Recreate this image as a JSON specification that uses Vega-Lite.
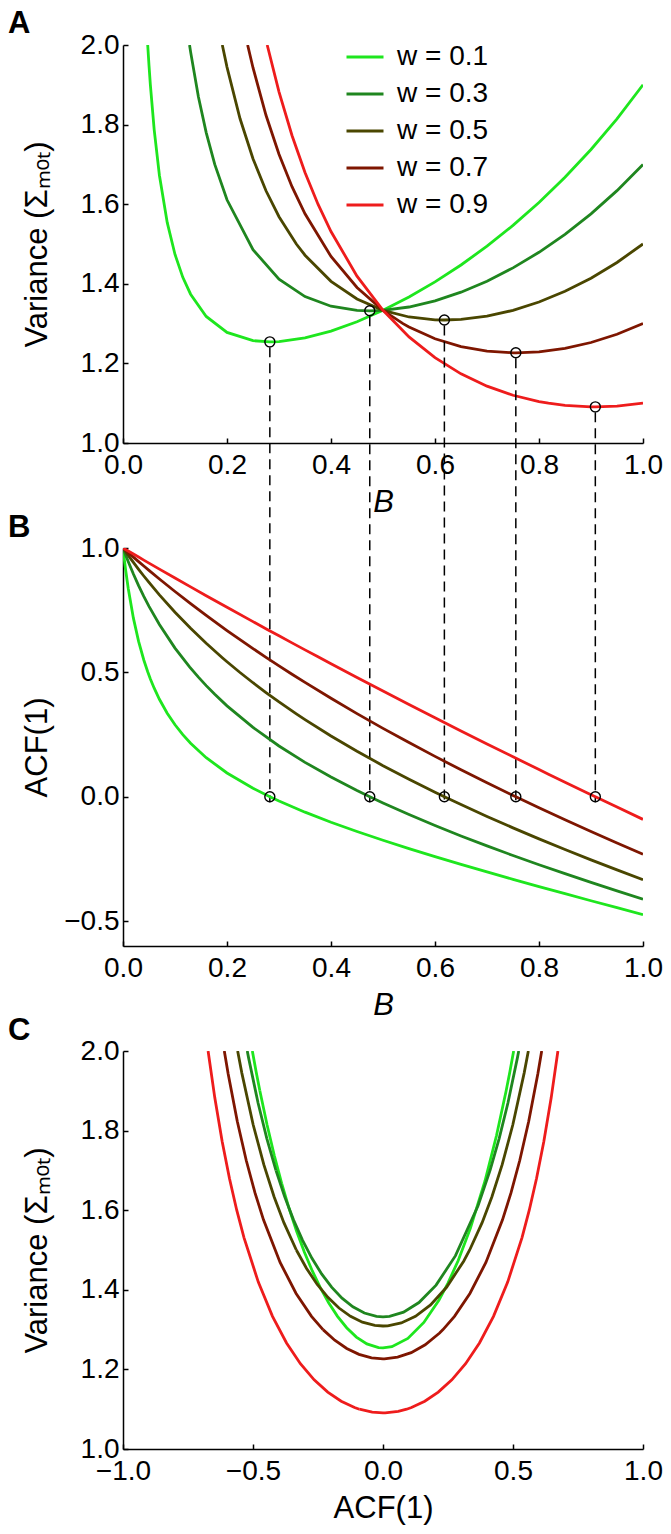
{
  "$schema": "https://vega.github.io/schema/vega-lite/v6.json",
  "background": "white",
  "padding": {"left": 8, "top": 8, "right": 5, "bottom": 5},
  "bounds": "flush",
  "spacing": 105,
  "resolve": {"legend": {"color": "independent"}},
  "config": {
    "view": {"stroke": null},
    "font": "Liberation Sans",
    "axis": {
      "grid": false, "domainColor": "black", "domainWidth": 1.5,
      "tickColor": "black", "tickWidth": 1.5, "tickSize": -5,
      "labelColor": "black", "labelFont": "Liberation Sans", "labelFontSize": 28,
      "labelFlush": false, "labelOverlap": false,
      "titleColor": "black", "titleFont": "Liberation Sans", "titleFontSize": 31, "titleFontWeight": "normal"
    },
    "axisX": {"labelPadding": 13, "titlePadding": 8},
    "axisY": {"labelPadding": 9, "titleX": -70, "titleBaseline": "bottom"},
    "title": {"font": "Liberation Sans", "fontSize": 31, "fontWeight": "bold", "anchor": "start", "frame": "group", "color": "black", "baseline": "alphabetic"}
  },
  "datasets": {
    "curves": [
      {"w":0.1,"B":0,"acf":1},
      {"w":0.1,"B":0.0025,"acf":0.9545},
      {"w":0.1,"B":0.005,"acf":0.9126},
      {"w":0.1,"B":0.01,"acf":0.8382},
      {"w":0.1,"B":0.02,"acf":0.7179},
      {"w":0.1,"B":0.03,"acf":0.6246},
      {"w":0.1,"B":0.04,"acf":0.5498},
      {"w":0.1,"B":0.047506,"acf":0.5025,"V":2},
      {"w":0.1,"B":0.05,"acf":0.48816,"V":1.9487},
      {"w":0.1,"B":0.052632,"acf":0.47368,"V":1.9},
      {"w":0.1,"B":0.06,"acf":0.43635,"V":1.78694},
      {"w":0.1,"B":0.07,"acf":0.39199,"V":1.6728},
      {"w":0.1,"B":0.085,"acf":0.33596,"V":1.55429},
      {"w":0.1,"B":0.1,"acf":0.28929,"V":1.47368},
      {"w":0.1,"B":0.115,"acf":0.2495,"V":1.41622},
      {"w":0.1,"B":0.13,"acf":0.21494,"V":1.37392},
      {"w":0.1,"B":0.16,"acf":0.15711,"V":1.31793},
      {"w":0.1,"B":0.2,"acf":0.09565,"V":1.27778},
      {"w":0.1,"B":0.25,"acf":0.03409,"V":1.25714},
      {"w":0.1,"B":0.282376,"acf":0,"V":1.25414},
      {"w":0.1,"B":0.3,"acf":-0.01719,"V":1.2549},
      {"w":0.1,"B":0.35,"acf":-0.06199,"V":1.26407},
      {"w":0.1,"B":0.4,"acf":-0.10244,"V":1.28125},
      {"w":0.1,"B":0.45,"acf":-0.13984,"V":1.30466},
      {"w":0.1,"B":0.5,"acf":-0.175,"V":1.33333},
      {"w":0.1,"B":0.55,"acf":-0.20849,"V":1.36677},
      {"w":0.1,"B":0.6,"acf":-0.24068,"V":1.40476},
      {"w":0.1,"B":0.65,"acf":-0.27185,"V":1.44729},
      {"w":0.1,"B":0.7,"acf":-0.30221,"V":1.49451},
      {"w":0.1,"B":0.75,"acf":-0.3319,"V":1.54667},
      {"w":0.1,"B":0.8,"acf":-0.36104,"V":1.60417},
      {"w":0.1,"B":0.85,"acf":-0.38972,"V":1.66752},
      {"w":0.1,"B":0.9,"acf":-0.41802,"V":1.73737},
      {"w":0.1,"B":0.95,"acf":-0.44599,"V":1.81454},
      {"w":0.1,"B":1.0,"acf":-0.47368,"V":1.9},

      {"w":0.3,"B":0,"acf":1},
      {"w":0.3,"B":0.0025,"acf":0.98598},
      {"w":0.3,"B":0.005,"acf":0.97226},
      {"w":0.3,"B":0.01,"acf":0.94564},
      {"w":0.3,"B":0.02,"acf":0.89549},
      {"w":0.3,"B":0.03,"acf":0.84904},
      {"w":0.3,"B":0.04,"acf":0.80584},
      {"w":0.3,"B":0.05,"acf":0.76554},
      {"w":0.3,"B":0.07,"acf":0.69239},
      {"w":0.3,"B":0.1,"acf":0.59773},
      {"w":0.3,"B":0.127985,"acf":0.52201,"V":2},
      {"w":0.3,"B":0.13,"acf":0.51695,"V":1.98272},
      {"w":0.3,"B":0.145,"acf":0.48068,"V":1.87006},
      {"w":0.3,"B":0.16,"acf":0.44672,"V":1.77989},
      {"w":0.3,"B":0.176471,"acf":0.41176,"V":1.7},
      {"w":0.3,"B":0.2,"acf":0.36552,"V":1.61111},
      {"w":0.3,"B":0.25,"acf":0.27885,"V":1.48571},
      {"w":0.3,"B":0.3,"acf":0.20417,"V":1.41176},
      {"w":0.3,"B":0.35,"acf":0.13829,"V":1.36797},
      {"w":0.3,"B":0.4,"acf":0.07907,"V":1.34375},
      {"w":0.3,"B":0.45,"acf":0.025,"V":1.33333},
      {"w":0.3,"B":0.474547,"acf":0,"V":1.33218},
      {"w":0.3,"B":0.5,"acf":-0.025,"V":1.33333},
      {"w":0.3,"B":0.55,"acf":-0.07173,"V":1.34169},
      {"w":0.3,"B":0.6,"acf":-0.11579,"V":1.35714},
      {"w":0.3,"B":0.65,"acf":-0.15764,"V":1.37892},
      {"w":0.3,"B":0.7,"acf":-0.19766,"V":1.40659},
      {"w":0.3,"B":0.75,"acf":-0.23611,"V":1.44},
      {"w":0.3,"B":0.8,"acf":-0.27324,"V":1.47917},
      {"w":0.3,"B":0.85,"acf":-0.30923,"V":1.5243},
      {"w":0.3,"B":0.9,"acf":-0.34423,"V":1.57576},
      {"w":0.3,"B":0.95,"acf":-0.37837,"V":1.63409},
      {"w":0.3,"B":1.0,"acf":-0.41176,"V":1.7},

      {"w":0.5,"B":0,"acf":1},
      {"w":0.5,"B":0.0025,"acf":0.99253},
      {"w":0.5,"B":0.005,"acf":0.98512},
      {"w":0.5,"B":0.01,"acf":0.97049},
      {"w":0.5,"B":0.02,"acf":0.94192},
      {"w":0.5,"B":0.03,"acf":0.91425},
      {"w":0.5,"B":0.04,"acf":0.88741},
      {"w":0.5,"B":0.05,"acf":0.86136},
      {"w":0.5,"B":0.07,"acf":0.81149},
      {"w":0.5,"B":0.1,"acf":0.74167},
      {"w":0.5,"B":0.13,"acf":0.67706},
      {"w":0.5,"B":0.16,"acf":0.61697},
      {"w":0.5,"B":0.190983,"acf":0.55902,"V":2},
      {"w":0.5,"B":0.2,"acf":0.54286,"V":1.94444},
      {"w":0.5,"B":0.225,"acf":0.49957,"V":1.81534},
      {"w":0.5,"B":0.25,"acf":0.45833,"V":1.71429},
      {"w":0.5,"B":0.275,"acf":0.41895,"V":1.63373},
      {"w":0.5,"B":0.3,"acf":0.38125,"V":1.56863},
      {"w":0.5,"B":0.333333,"acf":0.33333,"V":1.5},
      {"w":0.5,"B":0.35,"acf":0.31029,"V":1.47186},
      {"w":0.5,"B":0.4,"acf":0.24444,"V":1.40625},
      {"w":0.5,"B":0.45,"acf":0.18289,"V":1.36201},
      {"w":0.5,"B":0.5,"acf":0.125,"V":1.33333},
      {"w":0.5,"B":0.55,"acf":0.07024,"V":1.31661},
      {"w":0.5,"B":0.6,"acf":0.01818,"V":1.30952},
      {"w":0.5,"B":0.618034,"acf":0,"V":1.30902},
      {"w":0.5,"B":0.65,"acf":-0.03152,"V":1.31054},
      {"w":0.5,"B":0.7,"acf":-0.07917,"V":1.31868},
      {"w":0.5,"B":0.75,"acf":-0.125,"V":1.33333},
      {"w":0.5,"B":0.8,"acf":-0.16923,"V":1.35417},
      {"w":0.5,"B":0.85,"acf":-0.21204,"V":1.38107},
      {"w":0.5,"B":0.9,"acf":-0.25357,"V":1.41414},
      {"w":0.5,"B":0.95,"acf":-0.29397,"V":1.45363},
      {"w":0.5,"B":1.0,"acf":-0.33333,"V":1.5},

      {"w":0.7,"B":0,"acf":1},
      {"w":0.7,"B":0.0025,"acf":0.99536},
      {"w":0.7,"B":0.005,"acf":0.99074},
      {"w":0.7,"B":0.01,"acf":0.98154},
      {"w":0.7,"B":0.02,"acf":0.96331},
      {"w":0.7,"B":0.03,"acf":0.94531},
      {"w":0.7,"B":0.04,"acf":0.92751},
      {"w":0.7,"B":0.05,"acf":0.90993},
      {"w":0.7,"B":0.07,"acf":0.87538},
      {"w":0.7,"B":0.1,"acf":0.825},
      {"w":0.7,"B":0.13,"acf":0.77626},
      {"w":0.7,"B":0.16,"acf":0.72905},
      {"w":0.7,"B":0.2,"acf":0.66829},
      {"w":0.7,"B":0.239672,"acf":0.61033,"V":2},
      {"w":0.7,"B":0.25,"acf":0.59559,"V":1.94286},
      {"w":0.7,"B":0.275,"acf":0.56048,"V":1.82345},
      {"w":0.7,"B":0.3,"acf":0.52614,"V":1.72549},
      {"w":0.7,"B":0.325,"acf":0.49253,"V":1.64409},
      {"w":0.7,"B":0.35,"acf":0.45962,"V":1.57576},
      {"w":0.7,"B":0.4,"acf":0.39574,"V":1.46875},
      {"w":0.7,"B":0.45,"acf":0.33428,"V":1.39068},
      {"w":0.7,"B":0.5,"acf":0.275,"V":1.33333},
      {"w":0.7,"B":0.538462,"acf":0.23077,"V":1.3},
      {"w":0.7,"B":0.55,"acf":0.21772,"V":1.29154},
      {"w":0.7,"B":0.6,"acf":0.16226,"V":1.2619},
      {"w":0.7,"B":0.65,"acf":0.10849,"V":1.24217},
      {"w":0.7,"B":0.7,"acf":0.05625,"V":1.23077},
      {"w":0.7,"B":0.75,"acf":0.00543,"V":1.22667},
      {"w":0.7,"B":0.755427,"acf":0,"V":1.22663},
      {"w":0.7,"B":0.8,"acf":-0.04407,"V":1.22917},
      {"w":0.7,"B":0.85,"acf":-0.09236,"V":1.23785},
      {"w":0.7,"B":0.9,"acf":-0.13952,"V":1.25253},
      {"w":0.7,"B":0.95,"acf":-0.18563,"V":1.27318},
      {"w":0.7,"B":1.0,"acf":-0.23077,"V":1.3},

      {"w":0.9,"B":0,"acf":1},
      {"w":0.9,"B":0.0025,"acf":0.99694},
      {"w":0.9,"B":0.005,"acf":0.99389},
      {"w":0.9,"B":0.01,"acf":0.9878},
      {"w":0.9,"B":0.02,"acf":0.97562},
      {"w":0.9,"B":0.03,"acf":0.96348},
      {"w":0.9,"B":0.04,"acf":0.95137},
      {"w":0.9,"B":0.05,"acf":0.93929},
      {"w":0.9,"B":0.07,"acf":0.91522},
      {"w":0.9,"B":0.1,"acf":0.87935},
      {"w":0.9,"B":0.13,"acf":0.84375},
      {"w":0.9,"B":0.16,"acf":0.80841},
      {"w":0.9,"B":0.2,"acf":0.7617},
      {"w":0.9,"B":0.25,"acf":0.70395},
      {"w":0.9,"B":0.277319,"acf":0.67268,"V":2},
      {"w":0.9,"B":0.3,"acf":0.64688,"V":1.88235},
      {"w":0.9,"B":0.325,"acf":0.61859,"V":1.77268},
      {"w":0.9,"B":0.35,"acf":0.59046,"V":1.67965},
      {"w":0.9,"B":0.375,"acf":0.5625,"V":1.6},
      {"w":0.9,"B":0.4,"acf":0.53469,"V":1.53125},
      {"w":0.9,"B":0.45,"acf":0.47955,"V":1.41935},
      {"w":0.9,"B":0.5,"acf":0.425,"V":1.33333},
      {"w":0.9,"B":0.55,"acf":0.37104,"V":1.26646},
      {"w":0.9,"B":0.6,"acf":0.31765,"V":1.21429},
      {"w":0.9,"B":0.65,"acf":0.26481,"V":1.17379},
      {"w":0.9,"B":0.7,"acf":0.2125,"V":1.14286},
      {"w":0.9,"B":0.75,"acf":0.16071,"V":1.12},
      {"w":0.9,"B":0.8,"acf":0.10943,"V":1.10417},
      {"w":0.9,"B":0.818182,"acf":0.09091,"V":1.1},
      {"w":0.9,"B":0.85,"acf":0.05864,"V":1.09463},
      {"w":0.9,"B":0.9,"acf":0.00833,"V":1.09091},
      {"w":0.9,"B":0.908325,"acf":0,"V":1.09083},
      {"w":0.9,"B":0.95,"acf":-0.04151,"V":1.09273},
      {"w":0.9,"B":1.0,"acf":-0.09091,"V":1.1}
    ],
    "mirror": [
      {"w":0.1,"acf":-0.5025,"V":2},
      {"w":0.1,"acf":-0.48816,"V":1.9487},
      {"w":0.1,"acf":-0.47368,"V":1.9},
      {"w":0.3,"acf":-0.52201,"V":2},
      {"w":0.3,"acf":-0.51695,"V":1.98272},
      {"w":0.3,"acf":-0.48068,"V":1.87006},
      {"w":0.3,"acf":-0.44672,"V":1.77989},
      {"w":0.3,"acf":-0.41176,"V":1.7},
      {"w":0.5,"acf":-0.55902,"V":2},
      {"w":0.5,"acf":-0.54286,"V":1.94444},
      {"w":0.5,"acf":-0.49957,"V":1.81534},
      {"w":0.5,"acf":-0.45833,"V":1.71429},
      {"w":0.5,"acf":-0.41895,"V":1.63373},
      {"w":0.5,"acf":-0.38125,"V":1.56863},
      {"w":0.5,"acf":-0.33333,"V":1.5},
      {"w":0.7,"acf":-0.61033,"V":2},
      {"w":0.7,"acf":-0.59559,"V":1.94286},
      {"w":0.7,"acf":-0.56048,"V":1.82345},
      {"w":0.7,"acf":-0.52614,"V":1.72549},
      {"w":0.7,"acf":-0.49253,"V":1.64409},
      {"w":0.7,"acf":-0.45962,"V":1.57576},
      {"w":0.7,"acf":-0.39574,"V":1.46875},
      {"w":0.7,"acf":-0.33428,"V":1.39068},
      {"w":0.7,"acf":-0.275,"V":1.33333},
      {"w":0.7,"acf":-0.23077,"V":1.3},
      {"w":0.9,"acf":-0.67268,"V":2},
      {"w":0.9,"acf":-0.64688,"V":1.88235},
      {"w":0.9,"acf":-0.61859,"V":1.77268},
      {"w":0.9,"acf":-0.59046,"V":1.67965},
      {"w":0.9,"acf":-0.5625,"V":1.6},
      {"w":0.9,"acf":-0.53469,"V":1.53125},
      {"w":0.9,"acf":-0.47955,"V":1.41935},
      {"w":0.9,"acf":-0.425,"V":1.33333},
      {"w":0.9,"acf":-0.37104,"V":1.26646},
      {"w":0.9,"acf":-0.31765,"V":1.21429},
      {"w":0.9,"acf":-0.26481,"V":1.17379},
      {"w":0.9,"acf":-0.2125,"V":1.14286},
      {"w":0.9,"acf":-0.16071,"V":1.12},
      {"w":0.9,"acf":-0.10943,"V":1.10417},
      {"w":0.9,"acf":-0.09091,"V":1.1}
    ],
    "optima": [
      {"w":0.1,"Bstar":0.282376,"Vstar":1.25414},
      {"w":0.3,"Bstar":0.474547,"Vstar":1.33218},
      {"w":0.5,"Bstar":0.618034,"Vstar":1.30902},
      {"w":0.7,"Bstar":0.755427,"Vstar":1.22663},
      {"w":0.9,"Bstar":0.908325,"Vstar":1.09083}
    ]
  },
  "vconcat": [
    {
      "width": 520, "height": 398,
      "title": {"text": "A", "dx": -115, "offset": -9},
      "layer": [
        {
          "data": {"name": "curves"},
          "mark": {"type": "line", "clip": true, "strokeWidth": 2.8},
          "encoding": {
            "x": {"field": "B", "type": "quantitative", "scale": {"domain": [0, 1]},
                  "axis": {"values": [0, 0.2, 0.4, 0.6, 0.8, 1.0], "format": ".1f", "title": "B", "titleFontStyle": "italic"}},
            "y": {"field": "V", "type": "quantitative", "scale": {"domain": [1, 2]},
                  "axis": {"values": [1, 1.2, 1.4, 1.6, 1.8, 2.0], "format": ".1f", "title": "Variance (Σₘₒₜ)"}},
            "color": {"field": "w", "type": "nominal",
                      "scale": {"domain": [0.1, 0.3, 0.5, 0.7, 0.9], "range": ["#1ee61e", "#1f861f", "#4a4600", "#7e1600", "#ee1c1c"]},
                      "legend": {"orient": "none", "legendX": 222, "legendY": -8, "title": null, "symbolType": "stroke",
                                 "symbolSize": 1369, "symbolStrokeWidth": 3, "labelFontSize": 28, "labelFont": "Liberation Sans",
                                 "labelColor": "black", "labelOffset": 12, "rowPadding": 3, "padding": 0,
                                 "labelExpr": "'w = ' + datum.label"}}
          }
        },
        {
          "data": {"name": "optima"},
          "mark": {"type": "rule", "strokeDash": [10, 6], "strokeWidth": 1.5, "color": "black", "clip": false, "yOffset": 5.5},
          "encoding": {
            "x": {"field": "Bstar", "type": "quantitative"},
            "y": {"field": "Vstar", "type": "quantitative"},
            "y2": {"datum": 0.0972}
          }
        },
        {
          "data": {"name": "optima"},
          "mark": {"type": "point", "shape": "circle", "filled": false, "color": "black", "size": 100, "strokeWidth": 1.4, "opacity": 1},
          "encoding": {
            "x": {"field": "Bstar", "type": "quantitative"},
            "y": {"field": "Vstar", "type": "quantitative"}
          }
        }
      ]
    },
    {
      "width": 520, "height": 398,
      "title": {"text": "B", "dx": -115, "offset": -10},
      "layer": [
        {
          "data": {"name": "curves"},
          "mark": {"type": "line", "clip": true, "strokeWidth": 2.8},
          "encoding": {
            "x": {"field": "B", "type": "quantitative", "scale": {"domain": [0, 1]},
                  "axis": {"values": [0, 0.2, 0.4, 0.6, 0.8, 1.0], "format": ".1f", "title": "B", "titleFontStyle": "italic"}},
            "y": {"field": "acf", "type": "quantitative", "scale": {"domain": [-0.5, 1]},
                  "axis": {"values": [-0.5, 0, 0.5, 1.0], "format": ".1f", "title": "ACF(1)"}},
            "color": {"field": "w", "type": "nominal",
                      "scale": {"domain": [0.1, 0.3, 0.5, 0.7, 0.9], "range": ["#1ee61e", "#1f861f", "#4a4600", "#7e1600", "#ee1c1c"]},
                      "legend": null}
          }
        },
        {
          "mark": {"type": "rule", "color": "black", "strokeWidth": 1.3},
          "encoding": {"y": {"datum": 0}}
        },
        {
          "data": {"name": "optima"},
          "mark": {"type": "point", "shape": "circle", "filled": false, "color": "black", "size": 100, "strokeWidth": 1.4, "opacity": 1},
          "encoding": {
            "x": {"field": "Bstar", "type": "quantitative"},
            "y": {"datum": 0}
          }
        }
      ]
    },
    {
      "width": 520, "height": 398,
      "title": {"text": "C", "dx": -115, "offset": -10},
      "layer": [
        {
          "data": {"name": "curves"},
          "mark": {"type": "line", "clip": true, "strokeWidth": 2.8},
          "encoding": {
            "x": {"field": "acf", "type": "quantitative", "scale": {"domain": [-1, 1]},
                  "axis": {"values": [-1, -0.5, 0, 0.5, 1.0], "format": ".1f", "title": "ACF(1)"}},
            "y": {"field": "V", "type": "quantitative", "scale": {"domain": [1, 2]},
                  "axis": {"values": [1, 1.2, 1.4, 1.6, 1.8, 2.0], "format": ".1f", "title": "Variance (Σₘₒₜ)"}},
            "color": {"field": "w", "type": "nominal",
                      "scale": {"domain": [0.1, 0.3, 0.5, 0.7, 0.9], "range": ["#1ee61e", "#1f861f", "#4a4600", "#7e1600", "#ee1c1c"]},
                      "legend": null}
          }
        },
        {
          "data": {"name": "mirror"},
          "mark": {"type": "line", "clip": true, "strokeWidth": 2.8},
          "encoding": {
            "x": {"field": "acf", "type": "quantitative"},
            "y": {"field": "V", "type": "quantitative"},
            "color": {"field": "w", "type": "nominal", "legend": null}
          }
        }
      ]
    }
  ]
}
